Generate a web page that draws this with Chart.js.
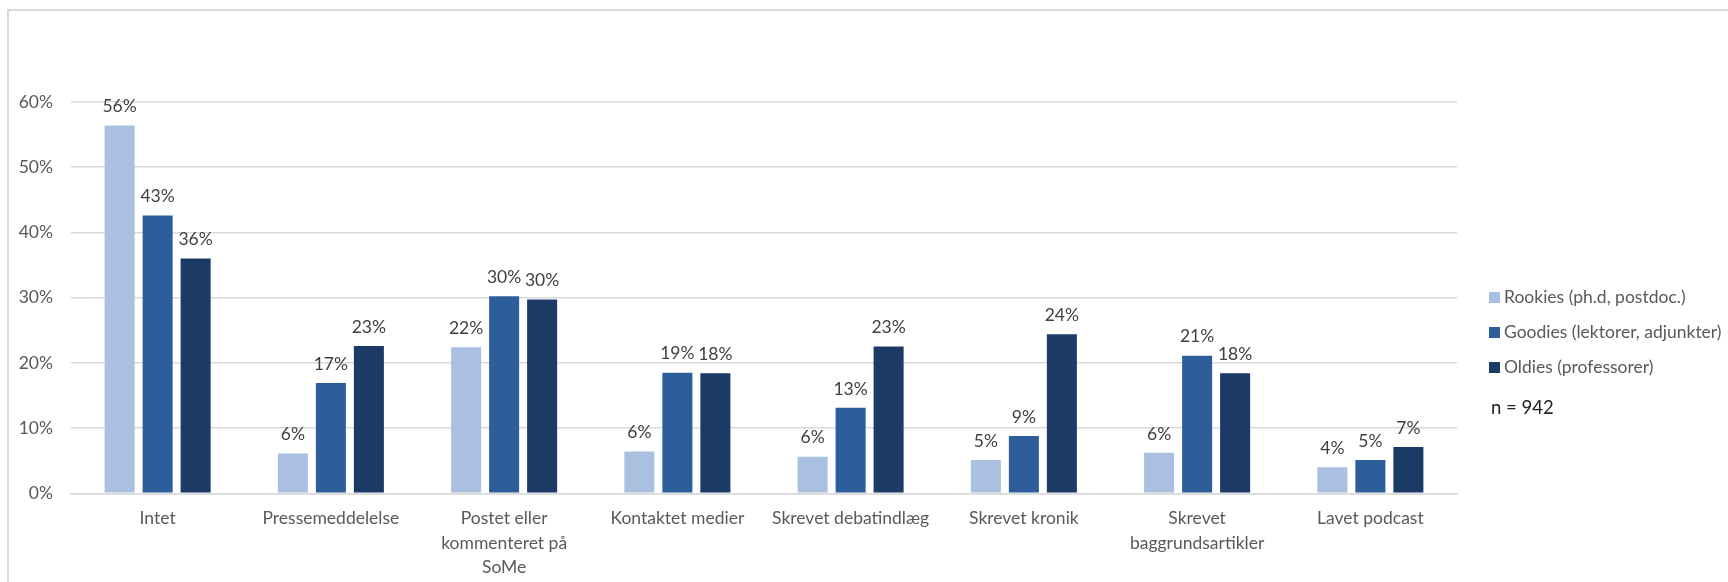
<!DOCTYPE html>
<html>
<head>
<meta charset="utf-8">
<script src="https://cdn.jsdelivr.net/npm/chart.js@4"></script>
<style>
  body { margin: 0; background: #fff; overflow: hidden; }
  #wrap { position: relative; width: 1728px; height: 582px; }
  #frame { position: absolute; left: 7px; top: 9px; width: 1800px; height: 700px;
           border-top: 2px solid #d9d9d9; border-left: 2px solid #d9d9d9; }
  #legend { position: absolute; left: 1489px; top: 286px; font-family: Lato, "Liberation Sans", sans-serif;
            font-size: 17.5px; color: #595959; }
  .item { height: 35px; display: flex; align-items: flex-start; white-space: nowrap; }
  .box { width: 11px; height: 11px; margin: 6px 4px 0 0; }
  #ncount { position: absolute; left: 1491px; top: 396px; font-family: Lato, "Liberation Sans", sans-serif;
            font-size: 18.5px; color: #222; }
</style>
</head>
<body>
<div id="wrap">
  <div id="frame"></div>
  <canvas id="chart"></canvas>
  <div id="legend"></div>
  <div id="ncount">n = 942</div>
</div>
<script>
const categories = [
  "Intet",
  "Pressemeddelelse",
  ["Postet eller", "kommenteret på", "SoMe"],
  "Kontaktet medier",
  "Skrevet debatindlæg",
  "Skrevet kronik",
  ["Skrevet", "baggrundsartikler"],
  "Lavet podcast"
];
const seriesNames = ["Rookies (ph.d, postdoc.)", "Goodies (lektorer, adjunkter)", "Oldies (professorer)"];
const seriesColors = ["#A9C0E1", "#2E5D9C", "#1B3A66"];
const rookies = [56.4, 6.1, 22.4, 6.4, 5.6, 5.1, 6.2, 4.0];
const goodies = [42.6, 16.9, 30.2, 18.5, 13.1, 8.8, 21.1, 5.1];
const oldies  = [36.0, 22.6, 29.7, 18.4, 22.5, 24.4, 18.4, 7.1];
const yTicks = [0, 10, 20, 30, 40, 50, 60];

const fontFamily = 'Lato, "Liberation Sans", sans-serif';

// labels above each bar
const barLabels = {
  id: 'barLabels',
  afterDatasetsDraw(chart) {
    const ctx = chart.ctx;
    ctx.save();
    ctx.font = '17.5px ' + fontFamily;
    ctx.fillStyle = '#404040';
    ctx.textAlign = 'center';
    ctx.textBaseline = 'middle';
    chart.data.datasets.forEach((ds, i) => {
      chart.getDatasetMeta(i).data.forEach((bar, j) => {
        ctx.fillText(Math.round(ds.data[j]) + '%', bar.x, bar.y - 19);
      });
    });
    ctx.restore();
  }
};

const allData = [rookies, goodies, oldies];
const datasets = allData.map((d, i) => ({
  label: seriesNames[i],
  data: d,
  backgroundColor: seriesColors[i],
  categoryPercentage: 0.658,
  barPercentage: 0.79
}));

new Chart(document.getElementById('chart'), {
  type: 'bar',
  data: { labels: categories, datasets: datasets },
  options: {
    responsive: true,
    maintainAspectRatio: false,
    animation: false,
    layout: { padding: { top: 102, right: 271, left: 0, bottom: 0 } },
    plugins: { legend: { display: false }, tooltip: { enabled: false } },
    scales: {
      x: {
        grid: { display: false },
        border: { display: true, color: '#d9d9d9', width: 1.5 },
        ticks: { color: '#595959', font: { family: fontFamily, size: 17.5, lineHeight: 1.4 }, padding: 5, maxRotation: 0, autoSkip: false },
        afterFit(s) { s.height = 88.7; }
      },
      y: {
        min: 0, max: 60,
        afterBuildTicks(s) { s.ticks = yTicks.map(v => ({ value: v })); },
        grid: { color: '#d9d9d9', lineWidth: 1.5, drawTicks: false },
        border: { display: false },
        ticks: { color: '#595959', font: { family: fontFamily, size: 17.5 }, padding: 18, callback: v => v + '%' },
        afterFit(s) { s.width = 71; }
      }
    }
  },
  plugins: [barLabels]
});

const legend = document.getElementById('legend');
seriesNames.forEach((name, i) => {
  const row = document.createElement('div');
  row.className = 'item';
  row.innerHTML = '<span class="box" style="background:' + seriesColors[i] + '"></span><span>' + name + '</span>';
  legend.appendChild(row);
});
</script>
</body>
</html>
